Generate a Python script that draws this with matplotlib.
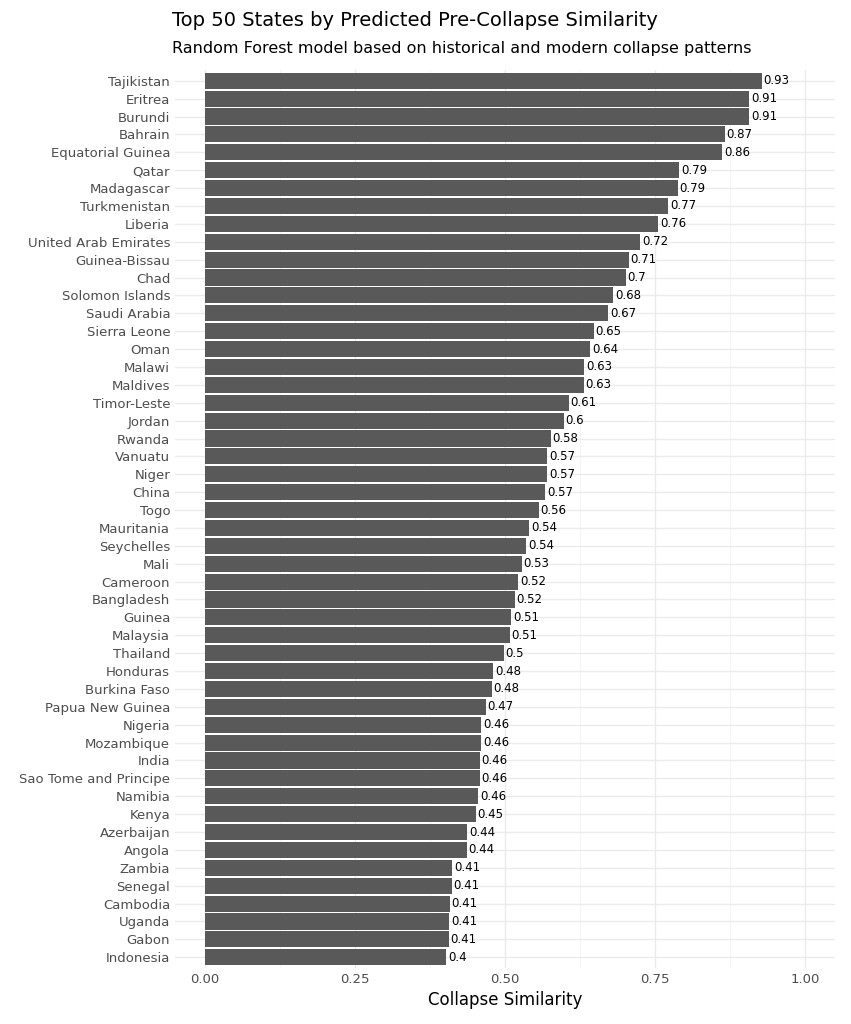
import matplotlib.pyplot as plt
from matplotlib.ticker import MultipleLocator

countries = ['Tajikistan', 'Eritrea', 'Burundi', 'Bahrain', 'Equatorial Guinea', 'Qatar',
             'Madagascar', 'Turkmenistan', 'Liberia', 'United Arab Emirates', 'Guinea-Bissau',
             'Chad', 'Solomon Islands', 'Saudi Arabia', 'Sierra Leone', 'Oman', 'Malawi',
             'Maldives', 'Timor-Leste', 'Jordan', 'Rwanda', 'Vanuatu', 'Niger', 'China', 'Togo',
             'Mauritania', 'Seychelles', 'Mali', 'Cameroon', 'Bangladesh', 'Guinea', 'Malaysia',
             'Thailand', 'Honduras', 'Burkina Faso', 'Papua New Guinea', 'Nigeria', 'Mozambique',
             'India', 'Sao Tome and Principe', 'Namibia', 'Kenya', 'Azerbaijan', 'Angola',
             'Zambia', 'Senegal', 'Cambodia', 'Uganda', 'Gabon', 'Indonesia']
similarity = [0.928, 0.907, 0.907, 0.866, 0.862, 0.790, 0.788, 0.772, 0.755, 0.725, 0.706,
              0.701, 0.680, 0.672, 0.648, 0.642, 0.632, 0.631, 0.606, 0.598, 0.576, 0.570,
              0.570, 0.567, 0.556, 0.540, 0.535, 0.528, 0.522, 0.516, 0.510, 0.508, 0.498,
              0.480, 0.478, 0.468, 0.460, 0.460, 0.458, 0.458, 0.455, 0.451, 0.437, 0.436,
              0.412, 0.411, 0.408, 0.407, 0.406, 0.402]

fig = plt.figure(figsize=(8.51, 10.24), dpi=100)
ax = fig.add_axes([175 / 851, 56 / 1024, 660 / 851, 898 / 1024])

y = list(range(len(countries)))[::-1]
ax.barh(y, similarity, height=0.9, color='#595959', zorder=3)
for yi, v in zip(y, similarity):
    ax.text(v + 0.003, yi, f'{round(v, 2):g}', va='center', ha='left', fontsize=8.5,
            color='black', zorder=4)

ax.set_yticks(y)
ax.set_yticklabels(countries)
ax.set_ylim(-0.6, len(countries) - 0.4)
ax.set_xlim(-0.05, 1.05)
ax.xaxis.set_major_locator(MultipleLocator(0.25))
ax.xaxis.set_minor_locator(MultipleLocator(0.125))
ax.set_xticklabels([f'{t:.2f}' for t in ax.get_xticks()])
ax.set_xlim(-0.05, 1.05)
ax.tick_params(axis='both', length=0, labelsize=9.5, colors='#4d4d4d', which='both')
ax.grid(True, which='major', color='#ebebeb', linewidth=1, zorder=0)
ax.grid(True, which='minor', axis='x', color='#f3f3f3', linewidth=0.6, zorder=0)
for s in ax.spines.values():
    s.set_visible(False)
ax.set_xlabel('Collapse Similarity', fontsize=12)

fig.text(172 / 851, 1 - 20 / 1024, 'Top 50 States by Predicted Pre-Collapse Similarity',
         fontsize=14, va='center', ha='left')
fig.text(172 / 851, 1 - 48 / 1024, 'Random Forest model based on historical and modern collapse patterns',
         fontsize=11.5, va='center', ha='left')

fig.savefig('out.png', dpi=100, facecolor='white')
